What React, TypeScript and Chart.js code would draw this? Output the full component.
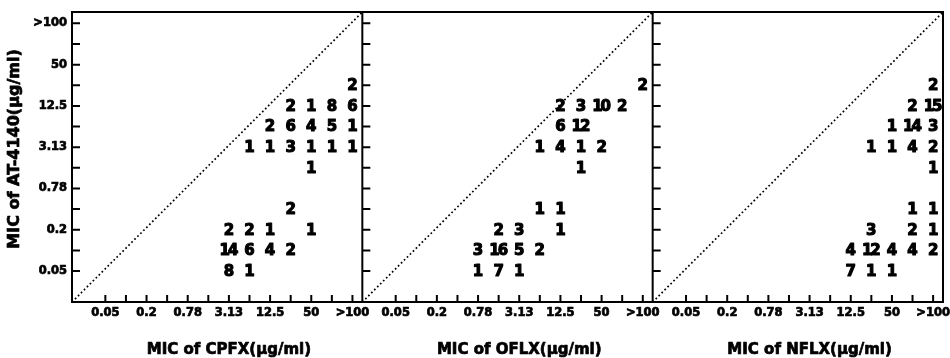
import React, { useEffect, useRef } from 'react';
import { Chart, registerables } from 'chart.js';

Chart.register(...registerables);

// MIC levels (µg/ml), shared by both axes; only every other one is labelled
const micLevels = ['0.05', '0.1', '0.2', '0.39', '0.78', '1.56', '3.13', '6.25', '12.5', '25', '50', '100', '>100'];
const drugs = ['CPFX', 'OFLX', 'NFLX'];
const yTitle = 'MIC of AT-4140(µg/ml)';

// [comparator MIC, AT-4140 MIC, number of strains]
const cpfxCounts: [string, string, number][] = [
  ['>100', '25', 2],
  ['25', '12.5', 2], ['50', '12.5', 1], ['100', '12.5', 8], ['>100', '12.5', 6],
  ['12.5', '6.25', 2], ['25', '6.25', 6], ['50', '6.25', 4], ['100', '6.25', 5], ['>100', '6.25', 1],
  ['6.25', '3.13', 1], ['12.5', '3.13', 1], ['25', '3.13', 3], ['50', '3.13', 1], ['100', '3.13', 1], ['>100', '3.13', 1],
  ['50', '1.56', 1],
  ['25', '0.39', 2],
  ['3.13', '0.2', 2], ['6.25', '0.2', 2], ['12.5', '0.2', 1], ['50', '0.2', 1],
  ['3.13', '0.1', 14], ['6.25', '0.1', 6], ['12.5', '0.1', 4], ['25', '0.1', 2],
  ['3.13', '0.05', 8], ['6.25', '0.05', 1],
];

const oflxCounts: [string, string, number][] = [
  ['>100', '25', 2],
  ['12.5', '12.5', 2], ['25', '12.5', 3], ['50', '12.5', 10], ['100', '12.5', 2],
  ['12.5', '6.25', 6], ['25', '6.25', 12],
  ['6.25', '3.13', 1], ['12.5', '3.13', 4], ['25', '3.13', 1], ['50', '3.13', 2],
  ['25', '1.56', 1],
  ['6.25', '0.39', 1], ['12.5', '0.39', 1],
  ['1.56', '0.2', 2], ['3.13', '0.2', 3], ['12.5', '0.2', 1],
  ['0.78', '0.1', 3], ['1.56', '0.1', 16], ['3.13', '0.1', 5], ['6.25', '0.1', 2],
  ['0.78', '0.05', 1], ['1.56', '0.05', 7], ['3.13', '0.05', 1],
];

const nflxCounts: [string, string, number][] = [
  ['>100', '25', 2],
  ['100', '12.5', 2], ['>100', '12.5', 15],
  ['50', '6.25', 1], ['100', '6.25', 14], ['>100', '6.25', 3],
  ['25', '3.13', 1], ['50', '3.13', 1], ['100', '3.13', 4], ['>100', '3.13', 2],
  ['>100', '1.56', 1],
  ['100', '0.39', 1], ['>100', '0.39', 1],
  ['25', '0.2', 3], ['100', '0.2', 2], ['>100', '0.2', 1],
  ['12.5', '0.1', 4], ['25', '0.1', 12], ['50', '0.1', 4], ['100', '0.1', 4], ['>100', '0.1', 2],
  ['12.5', '0.05', 7], ['25', '0.05', 1], ['50', '0.05', 1],
];

const panelCounts = [cpfxCounts, oflxCounts, nflxCounts];

// axis geometry in "level index" units
const PANEL = 14.1;
const OFF = 1.62;
const Y_MIN = -1.5;
const Y_MAX = 12.55;

const FONT = '"DejaVu Sans", "Liberation Sans", sans-serif';

const xOf = (panel: number, level: string) => panel * PANEL + OFF + micLevels.indexOf(level);
const yOf = (level: string) => micLevels.indexOf(level);

const framePlugin = {
  id: 'frame',
  afterDraw(chart: any) {
    const { ctx, chartArea } = chart;
    const xs = chart.scales.x;
    const ys = chart.scales.y;
    const { left, right, top, bottom } = chartArea;
    ctx.save();
    ctx.strokeStyle = '#000';
    ctx.lineWidth = 2;
    ctx.lineCap = 'square';
    ctx.beginPath();
    ctx.rect(left, top, right - left, bottom - top);
    for (let p = 1; p < 3; p++) {
      const px = xs.getPixelForValue(p * PANEL);
      ctx.moveTo(px, top);
      ctx.lineTo(px, bottom);
    }
    ctx.stroke();
    ctx.lineCap = 'butt';
    ctx.beginPath();
    for (let p = 0; p < 3; p++) {
      // x tick marks (inside, pointing up)
      for (let i = 0; i < micLevels.length; i++) {
        const px = xs.getPixelForValue(p * PANEL + OFF + i);
        ctx.moveTo(px, bottom);
        ctx.lineTo(px, bottom - 7);
      }
      // y tick marks on each panel's left border (pointing right)
      const bx = xs.getPixelForValue(p * PANEL);
      for (let i = 0; i < micLevels.length; i++) {
        const py = ys.getPixelForValue(i);
        ctx.moveTo(bx, py);
        ctx.lineTo(bx + 8, py);
      }
    }
    ctx.stroke();

    // titles
    ctx.fillStyle = '#000';
    ctx.strokeStyle = '#000';
    ctx.lineJoin = 'round';
    ctx.textAlign = 'center';
    ctx.textBaseline = 'middle';
    ctx.font = `bold 15px ${FONT}`;
    ctx.lineWidth = 0.7;
    for (let p = 0; p < 3; p++) {
      const cx = xs.getPixelForValue(p * PANEL + OFF + 6);
      const t = `MIC of ${drugs[p]}(µg/ml)`;
      ctx.fillText(t, cx, 350);
      ctx.strokeText(t, cx, 350);
    }
    ctx.save();
    ctx.translate(15, 149);
    ctx.rotate(-Math.PI / 2);
    ctx.font = `bold 16px ${FONT}`;
    ctx.fillText(yTitle, 0, 0);
    ctx.strokeText(yTitle, 0, 0);
    ctx.restore();

    // strain counts
    ctx.font = `bold 15px ${FONT}`;
    ctx.lineWidth = 1.1;
    chart.data.datasets.forEach((ds: any, di: number) => {
      if (ds.type !== 'scatter') return;
      const meta = chart.getDatasetMeta(di);
      meta.data.forEach((el: any, i: number) => {
        const txt = String(ds.data[i].n);
        (ctx as any).letterSpacing = txt.length > 1 ? '-2px' : '0px';
        const tx = el.x + (txt.length > 1 ? -1 : 0);
        const ty = el.y + 1;
        ctx.fillText(txt, tx, ty);
        ctx.strokeText(txt, tx, ty);
      });
    });
    (ctx as any).letterSpacing = '0px';
    ctx.restore();
  },
};

export default function App() {
  const ref = useRef<HTMLCanvasElement | null>(null);

  useEffect(() => {
    if (!ref.current) return;
    const datasets: any[] = [];
    for (let p = 0; p < 3; p++) {
      datasets.push({
        type: 'line',
        data: [
          { x: p * PANEL, y: Y_MIN },
          { x: (p + 1) * PANEL, y: Y_MAX },
        ],
        borderColor: '#000',
        borderWidth: 1.7,
        borderDash: [1.7, 2.5],
        pointRadius: 0,
        fill: false,
      });
      datasets.push({
        type: 'scatter',
        data: panelCounts[p].map(([xl, yl, n]) => ({ x: xOf(p, xl), y: yOf(yl), n })),
        pointRadius: 0,
        pointHoverRadius: 0,
      });
    }

    const tickFont = { family: FONT, weight: 'bold', size: 11.5 };
    const chart = new Chart(ref.current, {
      type: 'scatter',
      data: { datasets },
      options: {
        animation: false,
        responsive: false,
        devicePixelRatio: 1,
        layout: { padding: { left: 0, right: 7, top: 12, bottom: 0 } },
        plugins: { legend: { display: false }, tooltip: { enabled: false } },
        scales: {
          x: {
            type: 'linear',
            min: 0,
            max: 3 * PANEL,
            grid: { display: false, drawTicks: false },
            border: { display: false },
            afterBuildTicks: (s: any) => {
              const t: any[] = [];
              for (let p = 0; p < 3; p++)
                for (let i = 0; i < micLevels.length; i++) t.push({ value: p * PANEL + OFF + i });
              s.ticks = t;
            },
            afterFit: (s: any) => {
              s.height = 56;
              s.paddingLeft = 0;
              s.paddingRight = 0;
            },
            ticks: {
              autoSkip: false,
              maxRotation: 0,
              padding: 4,
              color: '#000',
              textStrokeColor: '#000',
              textStrokeWidth: 0.7,
              font: tickFont,
              callback: (_v: any, i: number) => {
                const idx = i % micLevels.length;
                return idx % 2 === 0 ? micLevels[idx] : '';
              },
            },
          },
          y: {
            type: 'linear',
            min: Y_MIN,
            max: Y_MAX,
            grid: { display: false, drawTicks: false },
            border: { display: false },
            afterBuildTicks: (s: any) => {
              s.ticks = micLevels.map((_l, i) => ({ value: i }));
            },
            afterFit: (s: any) => {
              s.width = 72;
              s.paddingTop = 0;
              s.paddingBottom = 0;
            },
            ticks: {
              autoSkip: false,
              padding: 5,
              color: '#000',
              textStrokeColor: '#000',
              textStrokeWidth: 0.7,
              font: tickFont,
              callback: (_v: any, i: number) => (i % 2 === 0 ? micLevels[i] : ''),
            },
          },
        },
      } as any,
      plugins: [framePlugin],
    });
    return () => chart.destroy();
  }, []);

  return (
    <div style={{ position: 'absolute', left: 0, top: 0, width: 950, height: 358, background: '#fff' }}>
      <canvas ref={ref} width={950} height={358} style={{ display: 'block', width: 950, height: 358 }} />
    </div>
  );
}
